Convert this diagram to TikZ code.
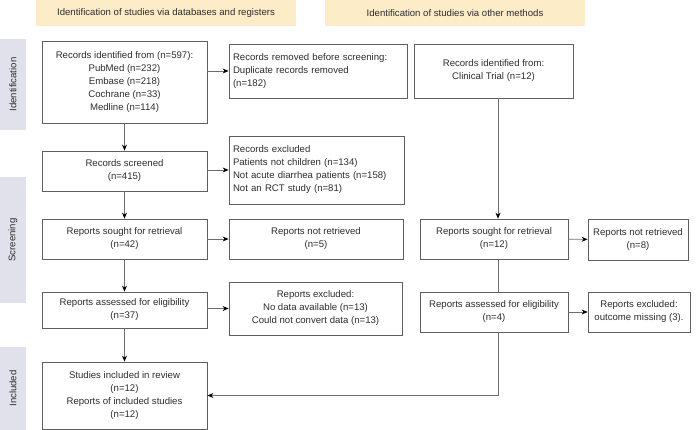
\documentclass[tikz,border=0pt]{standalone}
\usepackage{fontspec}
\setmainfont{Liberation Sans}
\usetikzlibrary{arrows.meta,calc}
\definecolor{hdr}{RGB}{252,236,200}
\definecolor{side}{RGB}{224,225,234}
\definecolor{bordr}{RGB}{95,95,95}
\definecolor{txt}{RGB}{45,45,45}
\definecolor{conn}{RGB}{110,110,110}
\tikzset{
  box/.style={draw=bordr, line width=0.8pt, fill=white, text=txt, align=center,
    inner sep=3pt, font=\fontsize{9.6}{13}\selectfont},
  lbox/.style={box, align=left},
  hdrbox/.style={fill=hdr, text=txt, inner sep=0pt, font=\fontsize{9.6}{12}\selectfont},
  sidebar/.style={fill=side, text=txt, inner sep=0pt, font=\fontsize{9.6}{12}\selectfont},
  arr/.style={draw=conn, line width=0.8pt, -{Stealth[length=6pt,width=5pt,color=black]}},
  ln/.style={draw=conn, line width=0.8pt}
}
\begin{document}
\begin{tikzpicture}[x=1pt,y=-1pt]
\useasboundingbox (0,0) rectangle (700,430);
% headers
\node[hdrbox, minimum width=260, minimum height=26] (h1) at (166,13) {Identification of studies via databases and registers};
\node[hdrbox, minimum width=260, minimum height=26] (h2) at (455,13) {Identification of studies via other methods};
% side bars
\node[sidebar, minimum height=26, minimum width=91, rotate=90] (s1) at (13,84.5) {Identification};
\node[sidebar, minimum height=26, minimum width=126, rotate=90] (s2) at (13,240) {Screening};
\node[sidebar, minimum height=26, minimum width=83, rotate=90] (s3) at (13,388.5) {Included};
% boxes
\node[box, minimum width=165, minimum height=82] (rid) at (124.5,82)
  {Records identified from (n=597):\\PubMed (n=232)\\Embase (n=218)\\Cochrane (n=33)\\Medline (n=114)};
\node[lbox, minimum width=178, minimum height=54, text width=170, inner sep=4pt] (rrem) at (318,71)
  {Records removed before screening:\\Duplicate records removed\\(n=182)};
\node[box, minimum width=159, minimum height=54] (ct) at (493.5,71)
  {Records identified from:\\Clinical Trial (n=12)};
\node[box, minimum width=165, minimum height=40] (rs) at (124.5,171)
  {Records screened\\(n=415)};
\node[lbox, minimum width=175, minimum height=68, text width=167, inner sep=4pt] (rex) at (316.5,170)
  {Records excluded\\Patients not children (n=134)\\Not acute diarrhea patients (n=158)\\Not an RCT study (n=81)};
\node[box, minimum width=165, minimum height=40] (rsl) at (124.5,239)
  {Reports sought for retrieval\\(n=42)};
\node[box, minimum width=174, minimum height=40] (rnl) at (316,239)
  {Reports not retrieved\\(n=5)};
\node[box, minimum width=148, minimum height=40] (rsr) at (494,239)
  {Reports sought for retrieval\\(n=12)};
\node[box, minimum width=100, minimum height=41] (rnr) at (638,239.5)
  {Reports not retrieved\\(n=8)};
\node[box, minimum width=165, minimum height=36] (ral) at (124.5,310)
  {Reports assessed for eligibility\\(n=37)};
\node[box, minimum width=173, minimum height=53] (rel) at (315.5,308.5)
  {Reports excluded:\\No data available (n=13)\\Could not convert data (n=13)};
\node[box, minimum width=148, minimum height=40] (rar) at (494,312)
  {Reports assessed for eligibility\\(n=4)};
\node[box, minimum width=102, minimum height=40] (rer) at (639,312)
  {Reports excluded:\\outcome missing (3).};
\node[box, minimum width=165, minimum height=67] (sir) at (124.5,395.5)
  {Studies included in review\\(n=12)\\Reports of included studies\\(n=12)};
% connectors
\coordinate (rx) at (498,0);
\coordinate (turn) at (498,395.5);
\draw[arr] (rid) -- (rs);
\draw[arr] (rs) -- (rsl);
\draw[arr] (rsl) -- (ral);
\draw[arr] (ral) -- (sir);
\draw[arr] (rid.east |- rrem.west) -- (rrem.west);
\draw[arr] (rs.east |- rex.west) -- (rex.west);
\draw[arr] (rsl) -- (rnl);
\draw[arr] (ral.east |- rel.west) -- (rel.west);
\draw[arr] (ct.south -| rx) -- (rsr.north -| rx);
\draw[arr] (rsr) -- (rnr);
\draw[arr] (rar) -- (rer);
\draw[ln] (rsr.south -| rx) -- (rar.north -| rx);
\draw[arr] (rar.south -| rx) -- (turn) -- (sir.east);
\end{tikzpicture}
\end{document}
